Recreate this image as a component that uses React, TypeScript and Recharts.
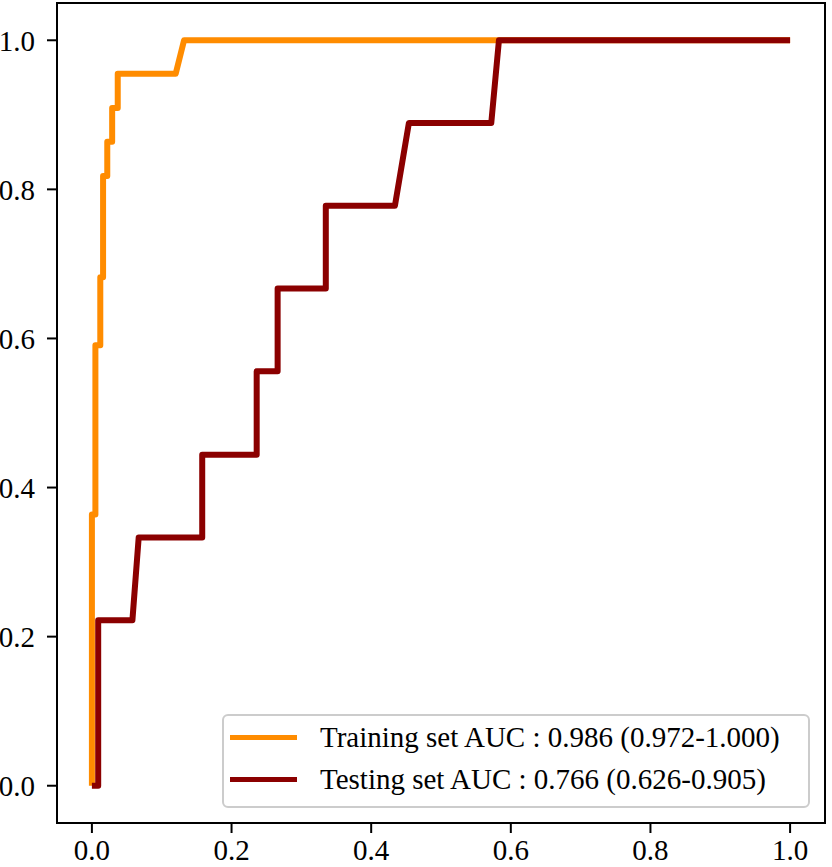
import { LineChart, Line, XAxis, YAxis, Legend, ReferenceArea } from "recharts";

// ROC points (false positive rate / true positive rate)
const trainFpr = [0, 0, 0.005, 0.005, 0.012, 0.012, 0.016, 0.016, 0.022, 0.022, 0.029, 0.029, 0.037, 0.037, 0.12, 0.132, 1];
const trainTpr = [0, 0.364, 0.364, 0.591, 0.591, 0.682, 0.682, 0.818, 0.818, 0.864, 0.864, 0.909, 0.909, 0.955, 0.955, 1, 1];

const testFpr = [0, 0.009, 0.009, 0.058, 0.067, 0.158, 0.158, 0.236, 0.236, 0.266, 0.266, 0.335, 0.335, 0.434, 0.454, 0.572, 0.583, 1];
const testTpr = [0, 0, 0.222, 0.222, 0.333, 0.333, 0.444, 0.444, 0.556, 0.556, 0.667, 0.667, 0.778, 0.778, 0.889, 0.889, 1, 1];

const xTicks = [0, 0.2, 0.4, 0.6, 0.8, 1.0];
const yTicks = [0, 0.2, 0.4, 0.6, 0.8, 1.0];

const seriesNames = [
  "Training set AUC : 0.986 (0.972-1.000)",
  "Testing set AUC : 0.766 (0.626-0.905)",
];
const seriesColors = ["#ff8c00", "#8b0000"];

const trainData = trainFpr.map((x, i) => ({ x, y: trainTpr[i] }));
const testData = testFpr.map((x, i) => ({ x, y: testTpr[i] }));

const FONT = "'Liberation Serif', 'Times New Roman', serif";
const tickStyle = { fontFamily: FONT, fontSize: 29, fill: "#000" };

function LegendBox({ payload }: any) {
  // keep the plotting order (training first), recharts sorts by name otherwise
  const items = [...(payload || [])].sort(
    (a: any, b: any) => seriesNames.indexOf(a.value) - seriesNames.indexOf(b.value),
  );
  return (
    <div
      style={{
        boxSizing: "border-box",
        width: 588,
        height: 94,
        border: "2px solid #cccccc",
        borderRadius: 6,
        background: "rgba(255,255,255,0.8)",
        paddingBottom: 6,
        fontFamily: FONT,
        fontSize: 29,
        color: "#000",
      }}
    >
      {items.map((item: any) => (
        <div key={item.value} style={{ display: "flex", alignItems: "center", height: 42 }}>
          <div style={{ marginLeft: 6, width: 67, height: 5, background: item.color }} />
          <span style={{ marginLeft: 23, whiteSpace: "nowrap", lineHeight: "42px" }}>{item.value}</span>
        </div>
      ))}
    </div>
  );
}

export default function App() {
  return (
    <div style={{ position: "absolute", left: 0, top: 0, width: 832, height: 867, background: "#fff" }}>
      <LineChart width={832} height={867} margin={{ top: 3, right: 7, left: 0, bottom: 0 }}>
        <XAxis
          type="number"
          dataKey="x"
          domain={[-0.05, 1.05]}
          ticks={xTicks}
          tickFormatter={(v: number) => v.toFixed(1)}
          allowDataOverflow
          height={44}
          tick={tickStyle}
          tickSize={10}
          tickMargin={6}
          axisLine={{ stroke: "#000", strokeWidth: 2 }}
          tickLine={{ stroke: "#000", strokeWidth: 2 }}
        />
        <YAxis
          type="number"
          dataKey="y"
          domain={[-0.05, 1.05]}
          ticks={yTicks}
          tickFormatter={(v: number) => v.toFixed(1)}
          allowDataOverflow
          width={57}
          tick={tickStyle}
          tickSize={10}
          tickMargin={12}
          axisLine={{ stroke: "#000", strokeWidth: 2 }}
          tickLine={{ stroke: "#000", strokeWidth: 2 }}
        />
        <ReferenceArea x1={-0.05} x2={1.05} y1={-0.05} y2={1.05} fill="none" stroke="#000" strokeWidth={2} />
        <Line
          data={trainData}
          dataKey="y"
          name={seriesNames[0]}
          type="linear"
          stroke={seriesColors[0]}
          strokeWidth={6}
          strokeLinejoin="round"
          dot={false}
          activeDot={false}
          isAnimationActive={false}
        />
        <Line
          data={testData}
          dataKey="y"
          name={seriesNames[1]}
          type="linear"
          stroke={seriesColors[1]}
          strokeWidth={6}
          strokeLinejoin="round"
          dot={false}
          activeDot={false}
          isAnimationActive={false}
        />
        <Legend
          layout="horizontal"
          verticalAlign="middle"
          align="center"
          wrapperStyle={{ left: 222, top: 714, width: 588, height: 94 }}
          content={(props: any) => <LegendBox {...props} />}
        />
      </LineChart>
    </div>
  );
}
